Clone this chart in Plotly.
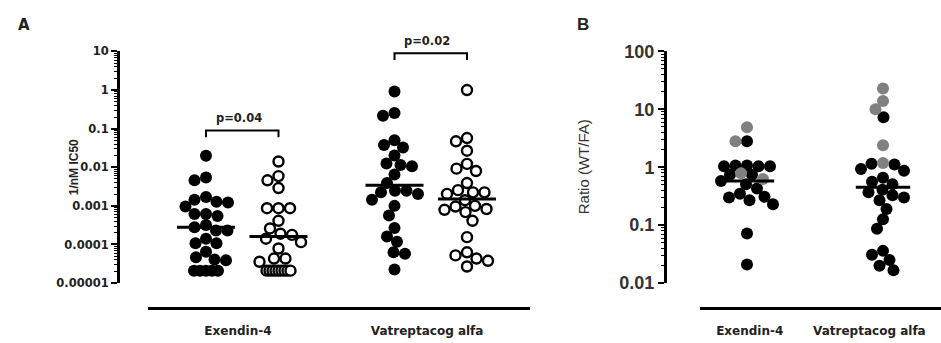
import numpy as np
import plotly.graph_objects as go

W, H = 941, 343

# ---------------- data ----------------
a_categories = ["Exendin-4", "Vatreptacog alfa"]
a_ex_wt = [0.020, 0.0054, 0.0046, 0.0017, 0.00145, 0.00128, 0.00123, 0.00096,
           0.00062, 0.00062, 0.00055, 0.00032, 0.00028, 0.00023, 0.00023,
           0.00014, 0.000107, 0.000107, 0.000065, 0.000047, 0.000041, 0.000039,
           0.000021, 0.000021, 0.000021, 0.000021, 0.000021]
a_ex_fa = [0.0141, 0.0059, 0.0046, 0.0029, 0.00087, 0.00087, 0.00087, 0.00041,
           0.00026, 0.00019, 0.000177, 0.000141, 0.000115, 0.0000787,
           0.0000433, 0.0000433, 0.0000357,
           0.000021, 0.000021, 0.000021, 0.000021, 0.000021, 0.000021,
           0.000021, 0.000021, 0.000021]
a_vat_wt = [0.92, 0.256, 0.216, 0.050, 0.0376, 0.0323, 0.0202, 0.0126, 0.0106,
            0.0115, 0.0065, 0.0039, 0.00245, 0.00204, 0.00224, 0.00245, 0.00145,
            0.00100, 0.000566, 0.000267, 0.000161, 0.000117, 0.0000628,
            0.0000574, 0.0000224]
a_vat_fa = [1.0, 0.047, 0.057, 0.0268, 0.0092, 0.0122, 0.0080, 0.0039, 0.00224,
            0.00255, 0.00224, 0.00204, 0.0014, 0.00079, 0.00096, 0.00069, 0.00100,
            0.00083, 0.00041, 0.000155, 0.0000628, 0.0000433, 0.0000269,
            0.0000378, 0.0000521]
a_medians = [0.00028, 0.00016, 0.0034, 0.0015]
a_ref = 0.001
a_pvalues = ["p=0.04", "p=0.02"]
a_ticks = [1e-5, 1e-4, 1e-3, 1e-2, 1e-1, 1, 10]
a_ticktext = ["0.00001", "0.0001", "0.001", "0.01", "0.1", "1", "10"]

b_categories = ["Exendin-4", "Vatreptacog alfa"]
b_ex_black = [2.8, 1.07, 1.04, 1.04, 1.07, 1.04, 0.74, 0.74, 0.58, 0.51, 0.43,
              0.35, 0.30, 0.31, 0.27, 0.23, 0.072, 0.021]
b_ex_gray = [2.8, 4.9, 0.79, 0.63]
b_vat_black = [7.3, 1.15, 0.93, 0.87, 1.12, 0.66, 0.51, 0.56, 0.41, 0.37, 0.33,
               0.27, 0.30, 0.19, 0.126, 0.087, 0.036, 0.031, 0.025, 0.020, 0.0166]
b_vat_gray = [23, 13.9, 10, 2.4, 1.19]
b_medians = [0.58, 0.45]
b_ref = 1
b_ticks = [0.01, 0.1, 1, 10, 100]
b_ticktext = ["0.01", "0.1", "1", "10", "100"]

# ---------------- layout geometry ----------------
A_X0, A_X1 = 148, 530          # x-axis line extent (px)
A_YAX = 118                    # y-axis position (px)
Y_TOP, Y_BOT = 44, 290         # y-axis extent (px)
X_LINE = 316                   # x-axis line y (px)
A_UNIT = 72.5                  # px per x unit
A_ORIGIN = 206                 # px of x=0
A_POS = [0.0, 1.0, 2.6, 3.6]
A_RANGE = [-5, 1]

B_X0, B_X1 = 700, 941
B_YAX = 665
B_UNIT = 136
B_ORIGIN = 747
B_POS = [0.0, 1.0]
B_RANGE = [-2, 2]


def fx(px):
    return px / W


def fy(px):
    return 1 - px / H


def swarm(vals, rng, d=11.5, maxw=24, tie_w=12):
    v = np.log10(np.asarray(vals, float))
    ppd = (Y_BOT - Y_TOP) / (rng[1] - rng[0])
    ypx = -v * ppd
    n = len(v)
    x = np.zeros(n)
    done = np.zeros(n, bool)
    placed = []
    uv, cnt = np.unique(np.round(v, 6), return_counts=True)
    for val, c in zip(uv, cnt):
        if c >= 4:
            idx = np.where(np.isclose(np.round(v, 6), val))[0]
            s = min(d, 2 * tie_w / (c - 1))
            x[idx] = (np.arange(c) - (c - 1) / 2) * s
            done[idx] = True
            placed.extend(idx.tolist())
    grid = np.arange(-maxw, maxw + 0.25, 0.5)
    for i in np.argsort(ypx):
        if done[i]:
            continue
        if placed:
            px_ = x[placed]
            py_ = ypx[placed]
            dist = np.sqrt((grid[:, None] - px_[None, :]) ** 2 +
                           (ypx[i] - py_[None, :]) ** 2).min(axis=1)
        else:
            dist = np.full(grid.shape, np.inf)
        ok = dist >= d
        if ok.any():
            cand = grid[ok]
            x[i] = cand[np.argmin(np.abs(cand) + 1e-3 * (cand > 0))]
        else:
            x[i] = grid[np.argmax(dist)]
        placed.append(i)
        done[i] = True
    return x


fig = go.Figure()

FILLED = dict(size=12, color="black", line=dict(width=0))
OPEN = dict(size=10, color="white", line=dict(width=2.4, color="black"))

# ---- panel A points
a_sets = [(a_ex_wt, FILLED), (a_ex_fa, OPEN), (a_vat_wt, FILLED), (a_vat_fa, OPEN)]
for (vals, mk), pos in zip(a_sets, A_POS):
    off = swarm(vals, A_RANGE) / A_UNIT
    fig.add_trace(go.Scatter(x=pos + off, y=vals, mode="markers", marker=mk,
                             xaxis="x", yaxis="y", showlegend=False, hoverinfo="y"))
for m, pos in zip(a_medians, A_POS):
    fig.add_trace(go.Scatter(x=[pos - 0.4, pos + 0.4], y=[m, m], mode="lines",
                             line=dict(color="black", width=3), xaxis="x", yaxis="y",
                             showlegend=False, hoverinfo="skip"))

# ---- panel B points
for blk, gry, pos in [(b_ex_black, b_ex_gray, B_POS[0]), (b_vat_black, b_vat_gray, B_POS[1])]:
    allv = list(blk) + list(gry)
    off = swarm(allv, B_RANGE, maxw=26) / B_UNIT
    nb = len(blk)
    fig.add_trace(go.Scatter(x=pos + off[:nb], y=blk, mode="markers",
                             marker=dict(size=12, color="black"), xaxis="x2", yaxis="y2",
                             showlegend=False))
    fig.add_trace(go.Scatter(x=pos + off[nb:], y=gry, mode="markers",
                             marker=dict(size=12, color="#808080"), xaxis="x2", yaxis="y2",
                             showlegend=False))
for m, pos in zip(b_medians, B_POS):
    fig.add_trace(go.Scatter(x=[pos - 0.2, pos + 0.2], y=[m, m], mode="lines",
                             line=dict(color="black", width=3), xaxis="x2", yaxis="y2",
                             showlegend=False, hoverinfo="skip"))

TXT = "#222"


def minor_vals(lo, hi):
    return [k * 10.0 ** e for e in range(lo, hi) for k in range(2, 10)]


ydom = [fy(Y_BOT), fy(Y_TOP)]
fig.update_layout(
    width=W, height=H, margin=dict(l=0, r=0, t=0, b=0),
    paper_bgcolor="white", plot_bgcolor="white",
    xaxis=dict(domain=[fx(A_X0), fx(A_X1)], anchor="free", position=fy(X_LINE),
               range=[(A_X0 - A_ORIGIN) / A_UNIT, (A_X1 - A_ORIGIN) / A_UNIT],
               showline=True, linewidth=2.5, linecolor="black", showgrid=False,
               zeroline=False, ticks="outside", ticklen=11, tickcolor="rgba(0,0,0,0)",
               tickvals=[0.44, 3.05], ticktext=a_categories,
               tickfont=dict(family="DejaVu Sans", size=12, weight="bold", color=TXT)),
    yaxis=dict(domain=ydom, anchor="free", position=fx(A_YAX), type="log",
               range=A_RANGE, showline=True, linewidth=3, linecolor="black",
               showgrid=False, zeroline=False, ticks="outside", ticklen=6,
               tickwidth=2, tickcolor="black", tickvals=a_ticks, ticktext=a_ticktext,
               tickfont=dict(family="DejaVu Sans", size=11.5, weight="bold", color=TXT),
               minor=dict(tickvals=minor_vals(-5, 1), ticks="outside", ticklen=3,
                          tickwidth=1.2, tickcolor="black")),
    xaxis2=dict(domain=[fx(B_X0), fx(B_X1)], anchor="free", position=fy(X_LINE),
                range=[(B_X0 - B_ORIGIN) / B_UNIT, (B_X1 - B_ORIGIN) / B_UNIT],
                showline=True, linewidth=2.5, linecolor="black", showgrid=False,
                zeroline=False, ticks="outside", ticklen=11, tickcolor="rgba(0,0,0,0)",
                tickvals=[0.02, 0.9], ticktext=b_categories,
                tickfont=dict(family="DejaVu Sans", size=12, weight="bold", color=TXT)),
    yaxis2=dict(domain=ydom, anchor="free", position=fx(B_YAX), type="log",
                range=B_RANGE, showline=True, linewidth=3, linecolor="black",
                showgrid=False, zeroline=False, ticks="outside", ticklen=6,
                tickwidth=2, tickcolor="black", tickvals=b_ticks, ticktext=b_ticktext,
                tickfont=dict(family="Liberation Sans", size=18, weight="bold", color="#333"),
                minor=dict(tickvals=minor_vals(-2, 2), ticks="outside", ticklen=3,
                           tickwidth=1.2, tickcolor="black")),
)

shapes = [
    dict(type="line", xref="paper", yref="y", x0=fx(A_YAX), x1=fx(541),
         y0=np.log10(a_ref), y1=np.log10(a_ref),
         line=dict(color="black", width=2, dash="3px,2px")),
    dict(type="line", xref="paper", yref="y2", x0=fx(B_YAX), x1=1,
         y0=np.log10(b_ref), y1=np.log10(b_ref),
         line=dict(color="black", width=2, dash="3px,2px")),
]
bracket_y = [128, 46]
for (p0, p1), by in zip([(A_POS[0], A_POS[1]), (A_POS[2], A_POS[3])], bracket_y):
    shapes.append(dict(type="path", xref="x", yref="paper",
                       path=f"M {p0},{fy(by + 7)} L {p0},{fy(by)} L {p1},{fy(by)} L {p1},{fy(by + 7)}",
                       line=dict(color="black", width=2)))
fig.update_layout(shapes=shapes)

ann = []
for (p0, p1), by, txt in zip([(A_POS[0], A_POS[1]), (A_POS[2], A_POS[3])], bracket_y, a_pvalues):
    ann.append(dict(x=(p0 + p1) / 2 - 0.05, y=fy(by - 13), xref="x", yref="paper", text=txt,
                    xanchor="center", yanchor="middle", showarrow=False,
                    font=dict(family="DejaVu Sans", size=11.5, weight="bold", color=TXT)))
ann.append(dict(x=fx(74), y=fy(167), xref="paper", yref="paper", text="1/nM IC50",
                textangle=-90, showarrow=False, xanchor="center", yanchor="middle",
                font=dict(family="Liberation Sans", size=12, weight="bold", color=TXT)))
ann.append(dict(x=fx(583), y=fy(167), xref="paper", yref="paper", text="Ratio (WT/FA)",
                textangle=-90, showarrow=False, xanchor="center", yanchor="middle",
                font=dict(family="Liberation Sans", size=15, color="#333")))
ann.append(dict(x=fx(24), y=fy(16), xref="paper", yref="paper", text="A", showarrow=False,
                xanchor="center", yanchor="middle",
                font=dict(family="DejaVu Sans", size=15, weight="bold", color=TXT)))
ann.append(dict(x=fx(583), y=fy(15), xref="paper", yref="paper", text="B", showarrow=False,
                xanchor="center", yanchor="middle",
                font=dict(family="Liberation Sans", size=17, weight="bold", color=TXT)))
fig.update_layout(annotations=ann)

fig.write_html("out.html")
